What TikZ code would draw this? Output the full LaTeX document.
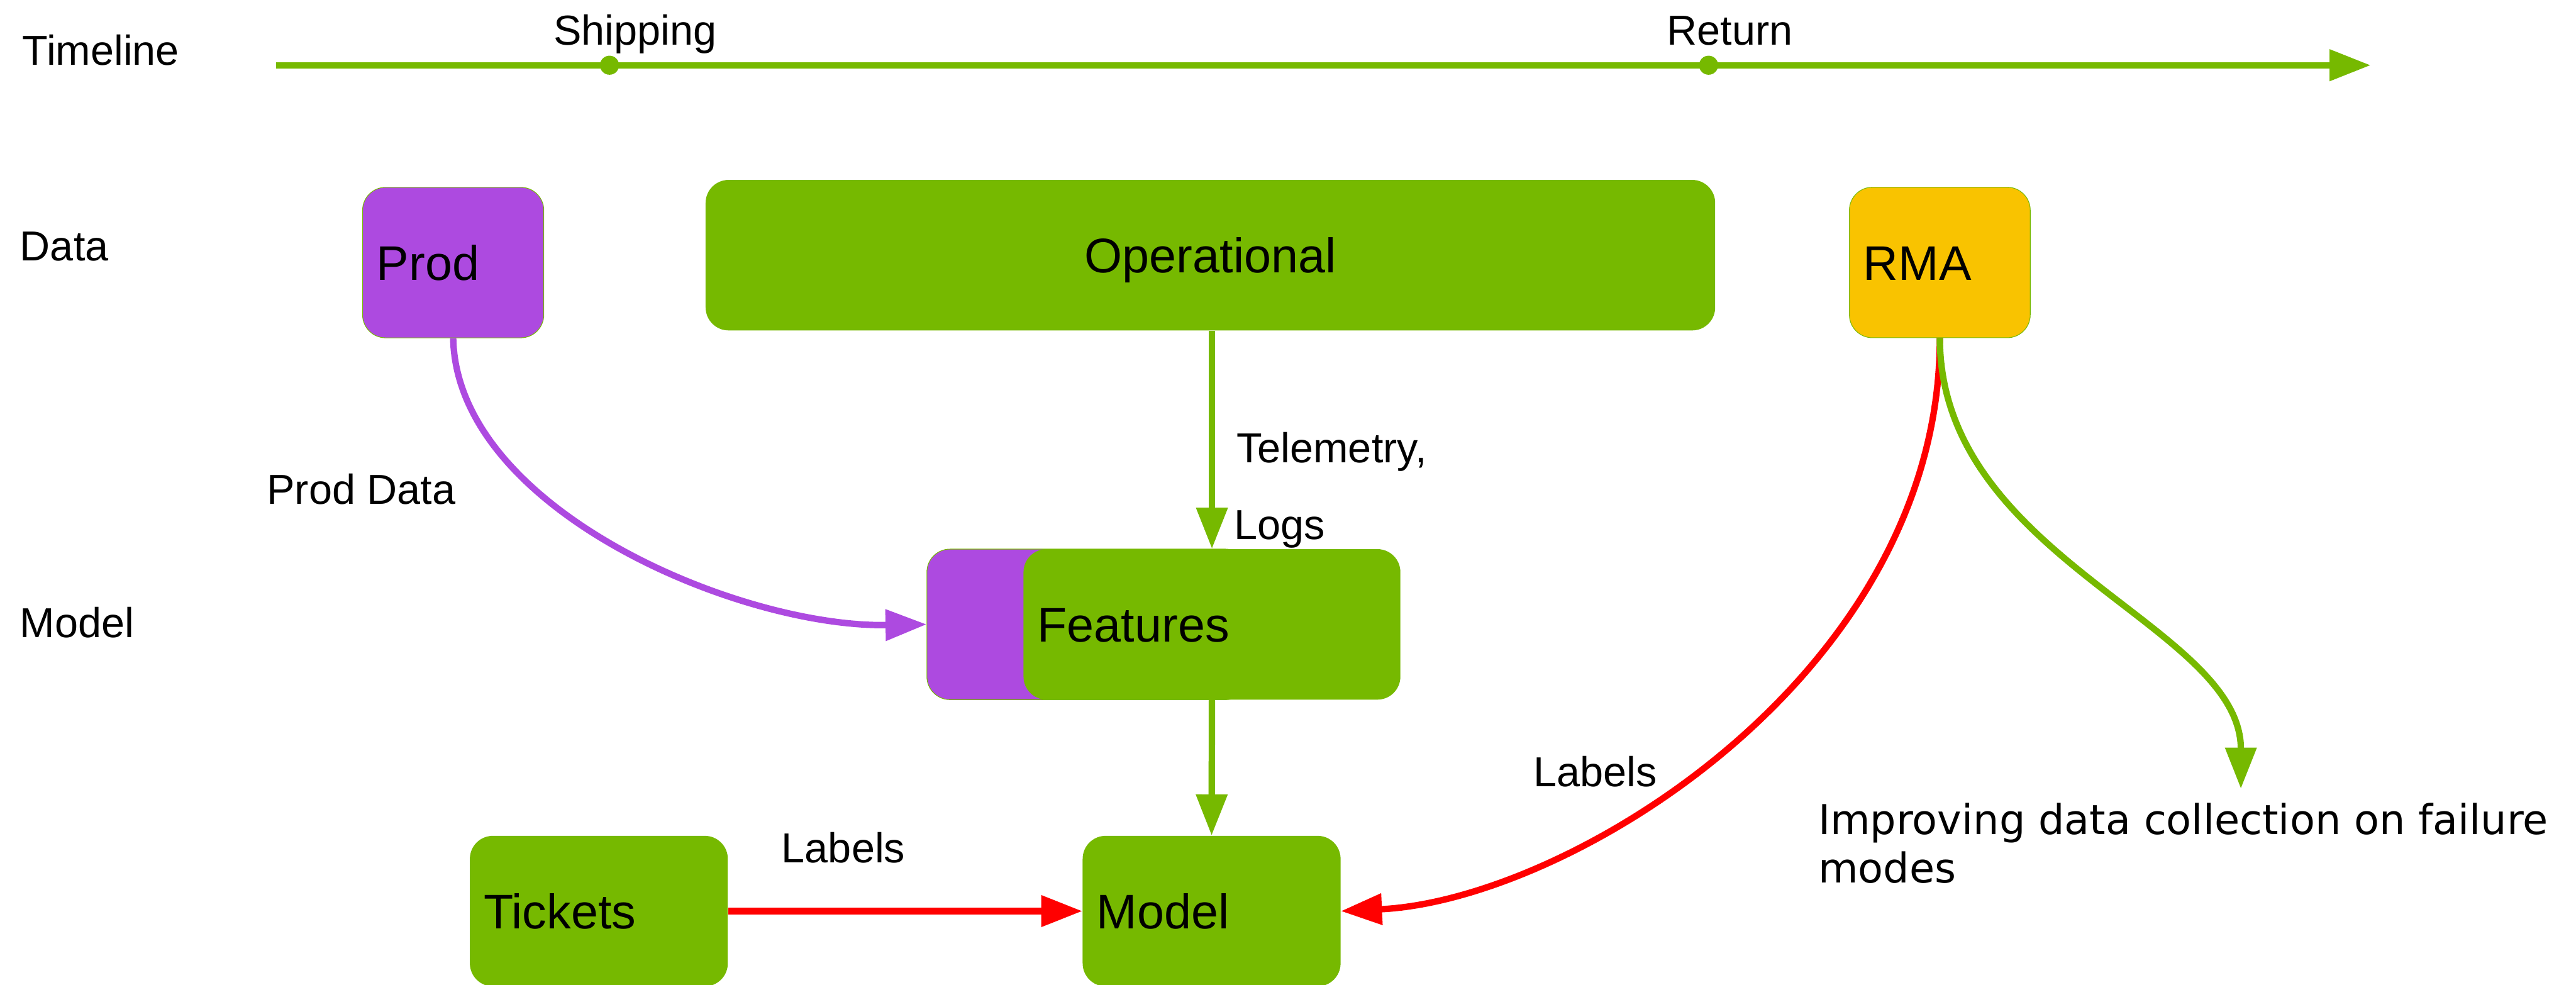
\documentclass[tikz,border=0pt]{standalone}
\usepackage{fontspec}
\setmainfont{Liberation Sans}
\newfontfamily\notefont{DejaVu Sans}
\usetikzlibrary{arrows.meta}

\definecolor{nvgreen}{HTML}{76B900}
\definecolor{prodpurple}{HTML}{AD4AE0}
\definecolor{rmayellow}{HTML}{F9C300}
\definecolor{labelred}{HTML}{FF0000}

\begin{document}
\begin{tikzpicture}[x=1pt,y=-1pt,
  box/.style={rounded corners=14pt, draw=nvgreen, line width=0.4pt,
    minimum height=91.6pt, inner xsep=8.5pt, inner ysep=0pt,
    text height=21.2pt, text depth=0pt,
    font=\fontsize{29.6}{34}\selectfont, align=left},
  greenbox/.style={box, fill=nvgreen},
  purplebox/.style={box, fill=prodpurple},
  yellowbox/.style={box, fill=rmayellow},
  lbl/.style={anchor=base west, inner sep=0pt, font=\fontsize{25.5}{30}\selectfont},
  link/.style={line width=3.9pt, -{Triangle[length=25pt,width=18.4pt]}},
  dot/.style={circle, fill=nvgreen, minimum size=11.6pt, inner sep=0pt}
]
\useasboundingbox (0,0) rectangle (1568,599.2);

% row titles
\node[lbl] (rowtime)  at (13.5,39.5) {Timeline};
\node[lbl] (rowdata)  at (12,158.7)  {Data};
\node[lbl] (rowmodel) at (12,388)    {Model};

% timeline
\coordinate (tlstart) at (168,39.7);
\coordinate (tlend)   at (1443,39.7);
\draw[link, nvgreen] (tlstart) -- (tlend);
\node[dot] (ship) at (371,39.7) {};
\node[dot] (ret)  at (1040,39.7) {};
\node[lbl, anchor=base] (shiplbl) at (386.5,27.3) {Shipping};
\node[lbl, anchor=base] (retlbl)  at (1053,27.3)  {Return};

% data sources
\node[purplebox, minimum width=110.3pt, text width=93.3pt] (prod) at (275.85,159.8) {Prod};
\node[greenbox, draw=none, minimum width=614.5pt, text width=597.5pt, align=center] (oper) at (736.75,155.3) {Operational};
\node[yellowbox, minimum width=110.1pt, text width=93.1pt] (rma) at (1180.75,159.75) {RMA};

% features (purple part behind the green part)
\node[purplebox, minimum width=195.8pt] (featback) at (662.1,380) {};
\node[greenbox, draw=none, minimum width=229.4pt, text width=212.4pt] (feat) at (737.7,380) {Features};

% bottom row
\node[greenbox, draw=none, minimum width=157pt, text width=140pt] (tickets) at (364.5,554.5) {Tickets};
\node[greenbox, draw=none, minimum width=157pt, text width=140pt] (model) at (737.5,554.5) {Model};

% connectors
\draw[link, nvgreen] (feat.north |- oper.south) -- (feat.north);
\draw[link, nvgreen] (feat.south) -- (model.north);
\draw[link, prodpurple] (prod.south) .. controls (278,310) and (450,382) .. (featback.west);
\draw[link, labelred] (tickets.east) -- (model.west);
\draw[link, labelred] (rma.south) .. controls (1181,410) and (955,548) .. (model.east);
\coordinate (notetip) at (1364,480);
\draw[link, nvgreen] (rma.south) .. controls (1181,340) and (1364,380) .. (notetip);

% connector labels
\node[lbl] (proddata) at (162.3,307)   {Prod Data};
\node[lbl] (telem)    at (752.5,281.5) {Telemetry,};
\node[lbl] (logs)     at (751,328.4)   {Logs};
\node[lbl] (lbltix)   at (475.6,525.2) {Labels};
\node[lbl] (lblrma)   at (933.3,478.8) {Labels};

% outcome note (anchored on the baseline of its last line)
\node[anchor=base west, inner sep=0pt, align=left,
      font=\notefont\fontsize{25}{29.2}\selectfont] (note) at (1106.5,537.1)
  {Improving data collection on failure\\modes};
\end{tikzpicture}
\end{document}
